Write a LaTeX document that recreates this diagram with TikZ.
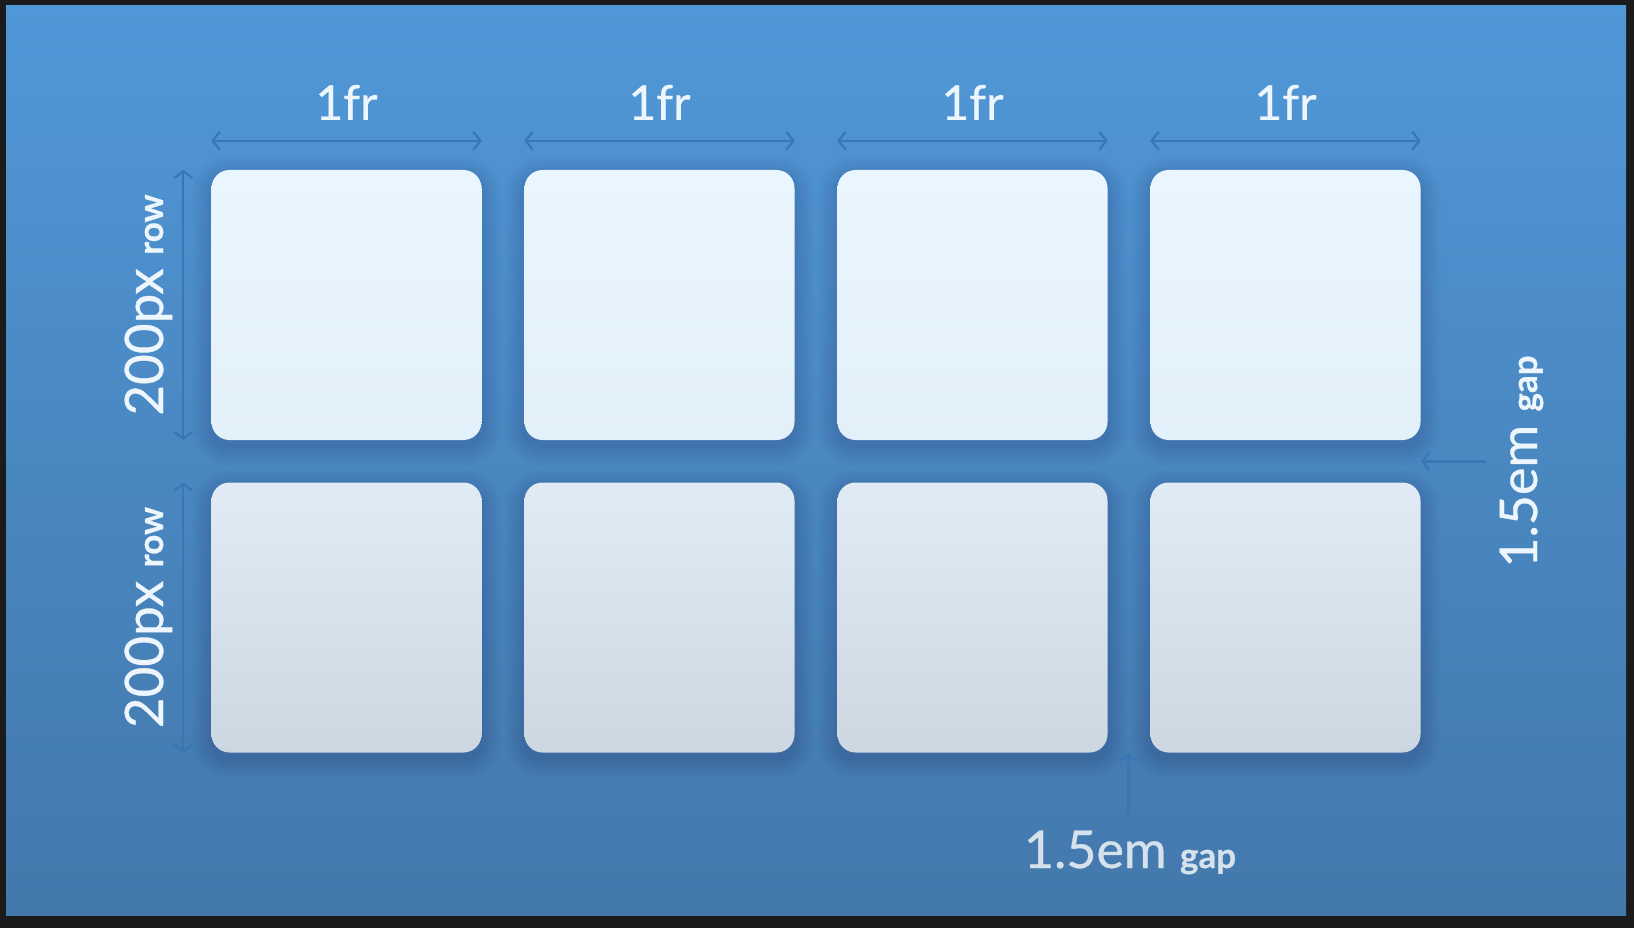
\documentclass[tikz,border=0pt]{standalone}
\usepackage{fontspec}
\setmainfont{Lato}
\newfontfamily\medfont[FakeBold=0.6]{Lato}
\usetikzlibrary{arrows.meta}
\definecolor{frame}{HTML}{1B1B1B}
\definecolor{bgtop}{HTML}{5097D7}
\definecolor{bgbot}{HTML}{4378AC}
\definecolor{arrowc}{HTML}{3A76B6}
\definecolor{txt}{HTML}{EDF6FC}
\definecolor{txtb}{HTML}{D5E1EB}
\definecolor{topA}{HTML}{EAF6FE}
\definecolor{topB}{HTML}{E2F0FA}
\definecolor{botA}{HTML}{E0EBF5}
\definecolor{botB}{HTML}{CCD7E1}
\tikzset{
  cell/.style={minimum width=270pt,minimum height=270pt,rounded corners=18pt,inner sep=0pt},
  toprow/.style={cell,top color=topA,bottom color=topB},
  botrow/.style={cell,top color=botA,bottom color=botB},
  shadowlayer/.style={fill=black!70!blue,fill opacity=0.012},
  dim/.style={draw=arrowc,line width=2.2pt,{Straight Barb[length=7pt,width=18pt]}-{Straight Barb[length=7pt,width=18pt]}},
  ptr/.style={draw=arrowc,line width=2.2pt,-{Straight Barb[length=7pt,width=18pt]}},
  lab/.style={text=txt,inner sep=0pt,font=\medfont\fontsize{48}{50}\selectfont},
}
\newcommand{\smb}[1]{{\fontsize{35}{37}\selectfont\bfseries #1}}
\begin{document}
\begin{tikzpicture}[x=1pt,y=-1pt]
\fill[frame] (0,0) rectangle (1634,928);
\shade[top color=bgtop,bottom color=bgbot] (6,6) rectangle (1626,915);
\useasboundingbox (0,0) rectangle (1634,928);
% soft shadows
\foreach \x in {346.5,659.5,972.5,1285.5}{
  \foreach \y in {305,617.5}{
    \foreach \e in {2,4,...,20}{
      \pgfmathsetmacro\rr{18+\e}
      \fill[shadowlayer,rounded corners=\rr pt] (\x-135-\e,\y-135-\e+6) rectangle (\x+135+\e,\y+135+\e+6);
    }
  }
}
% boxes
\foreach \i/\x in {1/346.5,2/659.5,3/972.5,4/1285.5}{
  \node[toprow] (a\i) at (\x,305) {};
  \node[botrow] (b\i) at (\x,617.5) {};
  \coordinate (tl\i) at ([yshift=29pt]a\i.north west);
  \coordinate (tr\i) at ([yshift=29pt]a\i.north east);
  \draw[dim] (tl\i) -- (tr\i);
  \node[lab,anchor=base] (f\i) at ([yshift=21pt]a\i.north |- tl\i) {1fr};
}
% row dimension arrows
\coordinate (r1t) at ([xshift=-28pt]a1.north west);
\coordinate (r1b) at ([xshift=-28pt]a1.south west);
\coordinate (r2t) at ([xshift=-28pt]b1.north west);
\coordinate (r2b) at ([xshift=-28pt]b1.south west);
\draw[dim] (r1t) -- (r1b);
\draw[dim] (r2t) -- (r2b);
\node[lab,rotate=90,anchor=base,font=\medfont\fontsize{53}{55}\selectfont] (rl1) at (163,305) {200px \smb{row}};
\node[lab,rotate=90,anchor=base,font=\medfont\fontsize{53}{55}\selectfont] (rl2) at (163,617.5) {200px \smb{row}};
% right gap
\coordinate (gr) at (1486,461.5);
\coordinate (gre) at (1421,461.5);
\draw[ptr] (gr) -- (gre);
\node[lab,rotate=90,anchor=base,font=\medfont\fontsize{52}{54}\selectfont] (gl1) at (1537,461.5) {1.5em \smb{gap}};
% bottom gap
\coordinate (gb) at (1128.5,818);
\coordinate (gbe) at (1128.5,753);
\draw[ptr] (gb) -- (gbe);
\node[lab,text=txtb,anchor=base,font=\medfont\fontsize{52}{54}\selectfont] (gl2) at (1130,868) {1.5em \smb{gap}};
\end{tikzpicture}
\end{document}
